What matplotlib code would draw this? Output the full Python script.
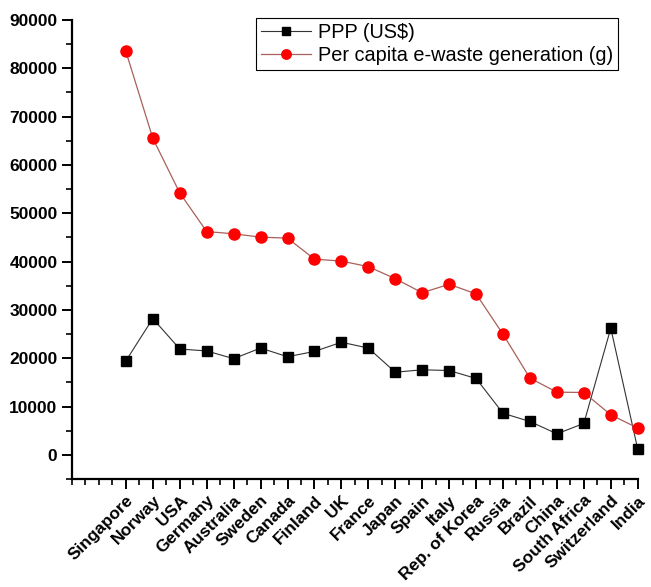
import matplotlib
matplotlib.use("Agg")
import matplotlib.pyplot as plt
from matplotlib.ticker import MultipleLocator, FixedLocator

countries = ["Singapore", "Norway", "USA", "Germany", "Australia", "Sweden",
             "Canada", "Finland", "UK", "France", "Japan", "Spain", "Italy",
             "Rep. of Korea", "Russia", "Brazil", "China", "South Africa",
             "Switzerland", "India"]
ppp = [19450, 28200, 21900, 21500, 19900, 22100, 20300, 21400, 23300, 22100,
       17100, 17600, 17450, 15800, 8600, 6900, 4350, 6500, 26200, 1200]
ewaste = [83500, 65500, 54200, 46200, 45750, 45050, 44850, 40500, 40100, 38950,
          36450, 33550, 35300, 33300, 24950, 15870, 12970, 12900, 8280, 5550]

plt.rcParams['font.family'] = ['Liberation Sans', 'DejaVu Sans']

fig = plt.figure(figsize=(6.51, 5.87), dpi=100)
ax = fig.add_axes([0.1106, 0.184, 0.869, 0.782])

x = list(range(1, len(countries) + 1))
ax.plot(x, ppp, color='#333333', lw=0.8, marker='s', ms=7, mfc='black',
        mec='black', label='PPP (US$)', clip_on=False, zorder=3)
ax.plot(x, ewaste, color='#a8605a', lw=0.9, marker='o', ms=8, mfc='#ff0000',
        mec='#ff0000', label='Per capita e-waste generation (g)', clip_on=False, zorder=3)

ax.set_xlim(-1, 20)
ax.set_ylim(-5000, 90000)
ax.spines['top'].set_visible(False)
ax.spines['right'].set_visible(False)
for s in ('left', 'bottom'):
    ax.spines[s].set_linewidth(1.6)

ax.set_yticks(range(0, 90001, 10000))
ax.yaxis.set_minor_locator(MultipleLocator(5000))
ax.set_xticks(x)
ax.set_xticklabels(countries, rotation=45, ha='right', va='top',
                   rotation_mode='anchor', fontweight='bold', fontsize=12.4)
ax.xaxis.set_minor_locator(FixedLocator([v + 0.5 for v in range(-1, 20)] + [-1, 0]))
ax.tick_params(axis='both', which='major', length=7, width=1.4, direction='out')
ax.tick_params(axis='both', which='minor', length=4, width=1.2, direction='out')
ax.tick_params(axis='x', which='major', pad=3)
for lab in ax.get_yticklabels():
    lab.set_fontweight('bold')
    lab.set_fontsize(12.5)

leg = ax.legend(loc='upper right', bbox_to_anchor=(0.965, 1.004), fontsize=14.3,
                frameon=True, fancybox=False, edgecolor='black', framealpha=1,
                borderpad=0.25, handlelength=2.5, handletextpad=0.35,
                labelspacing=0.2, markerscale=0.85, borderaxespad=0)
leg.get_frame().set_linewidth(0.8)

fig.savefig("out.png", dpi=100)
